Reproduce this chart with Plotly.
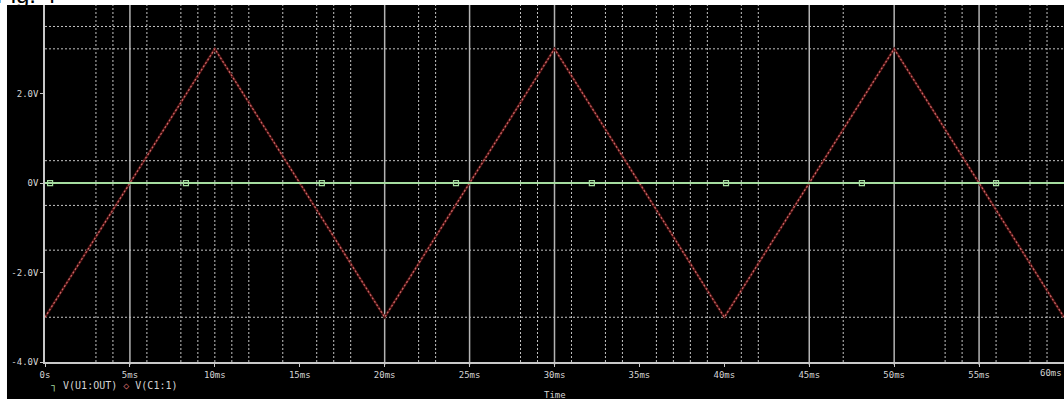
import plotly.graph_objects as go

# ---- data ----
time_ms = [0, 10, 20, 30, 40, 50, 60]
v_c1 = [-3.0, 3.0, -3.0, 3.0, -3.0, 3.0, -3.0]

out_time_ms = [0, 60]
v_out = [0.0, 0.0]
marker_time_ms = [0.3, 8.3, 16.3, 24.2, 32.2, 40.1, 48.1, 56.0]
marker_v = [0, 0, 0, 0, 0, 0, 0, 0]

x_tick_vals = [0, 5, 10, 15, 20, 25, 30, 35, 40, 45, 50, 55]
x_tick_text = ["0s", "5ms", "10ms", "15ms", "20ms", "25ms", "30ms", "35ms",
               "40ms", "45ms", "50ms", "55ms"]
x_last_tick = 60
x_last_text = "60ms"
y_tick_vals = [-4, -2, 0, 2]
y_tick_text = ["-4.0V", "-2.0V", "0V", "2.0V"]

solid_grid_x = [5, 20, 25, 30, 45, 50, 55]
dotted_grid_x = [3, 4, 6, 8, 9, 10, 11, 12, 14, 16, 17, 18, 22, 23, 28, 29, 31,
                 33, 34, 36, 37, 38, 39, 41, 42, 47, 53, 54, 56, 58, 59]
dotted_grid_y = [3.5, 3.0, 0.5, -0.5, -1.5, -3.0]

TEXT = "#d4d4d4"
GREEN = "#a6dca0"
RED = "#d06a6a"
FONT = "DejaVu Sans Mono"

fig = go.Figure()

fig.add_trace(go.Scatter(x=time_ms, y=v_c1, mode="lines", name="V(C1:1)",
                         line=dict(color="#4a1010", width=2.5), hoverinfo="skip",
                         showlegend=False))
fig.add_trace(go.Scatter(x=time_ms, y=v_c1, mode="lines", name="V(C1:1)",
                         line=dict(color=RED, width=1.2, dash="2px,2px"),
                         showlegend=False))
fig.add_trace(go.Scatter(x=out_time_ms, y=v_out, mode="lines", name="V(U1:OUT)",
                         line=dict(color=GREEN, width=2), showlegend=False))
fig.add_trace(go.Scatter(x=marker_time_ms, y=marker_v, mode="markers",
                         marker=dict(symbol="square-open", size=5, color=GREEN,
                                     line=dict(width=1.2, color=GREEN)),
                         showlegend=False))

shapes = [dict(type="rect", xref="paper", yref="paper",
               x0=-0.0373, x1=1.01, y0=-0.2, y1=1.0,
               fillcolor="black", line=dict(width=0), layer="below")]
for gx in solid_grid_x:
    shapes.append(dict(type="line", xref="x", yref="paper", x0=gx, x1=gx,
                       y0=-0.008, y1=1, line=dict(color="#b4b4b4", width=1.5),
                       layer="below"))
for gx in dotted_grid_x:
    shapes.append(dict(type="line", xref="x", yref="paper", x0=gx, x1=gx,
                       y0=0, y1=1, line=dict(color="#c4c4c4", width=1, dash="2px,2px"),
                       layer="below"))
for gy in dotted_grid_y:
    shapes.append(dict(type="line", xref="paper", yref="y", x0=0, x1=1,
                       y0=gy, y1=gy, line=dict(color="#c4c4c4", width=1, dash="2px,2px"),
                       layer="below"))

annotations = [
    dict(text="Fig. 4", xref="paper", yref="paper", x=-0.05, y=0.986,
         xanchor="left", yanchor="bottom", showarrow=False,
         font=dict(family="Liberation Sans", size=24, color="black")),
    dict(text=x_last_text, xref="x", yref="paper", x=x_last_tick, y=-0.031,
         xanchor="right", yanchor="middle", showarrow=False,
         font=dict(family=FONT, size=9, color=TEXT)),
    dict(text=f'<span style="color:{GREEN}">\u2510</span> V(U1:OUT) '
              f'<span style="color:{RED}">\u25c7</span> V(C1:1)',
         xref="paper", yref="paper", x=0.004, y=-0.068, xanchor="left",
         yanchor="middle", showarrow=False,
         font=dict(family=FONT, size=10, color=TEXT)),
    dict(text="Time", xref="paper", yref="paper", x=0.5, y=-0.092,
         xanchor="center", yanchor="middle", showarrow=False,
         font=dict(family=FONT, size=9, color=TEXT)),
]

fig.update_layout(
    width=1064, height=399,
    margin=dict(l=45, r=0, t=5, b=37),
    paper_bgcolor="white", plot_bgcolor="black",
    shapes=shapes, annotations=annotations,
    showlegend=False,
    xaxis=dict(range=[0, 60], tickmode="array", tickvals=x_tick_vals,
               ticktext=x_tick_text, showgrid=False, zeroline=False,
               showline=True, linecolor="#c8c8c8", linewidth=1.5,
               ticks="outside", ticklen=3, tickcolor="#c8c8c8",
               tickfont=dict(family=FONT, size=9, color=TEXT)),
    yaxis=dict(range=[-4, 3.98], tickmode="array", tickvals=y_tick_vals,
               ticktext=y_tick_text, showgrid=False, zeroline=False,
               showline=True, linecolor="#c8c8c8", linewidth=1.5,
               ticks="outside", ticklen=3, tickcolor="#c8c8c8",
               tickfont=dict(family=FONT, size=9, color=TEXT)),
)

fig.write_html(
    "out.html",
    config={"displayModeBar": False},
    post_script="document.body.style.margin='0px';document.body.style.overflow='hidden';",
)
